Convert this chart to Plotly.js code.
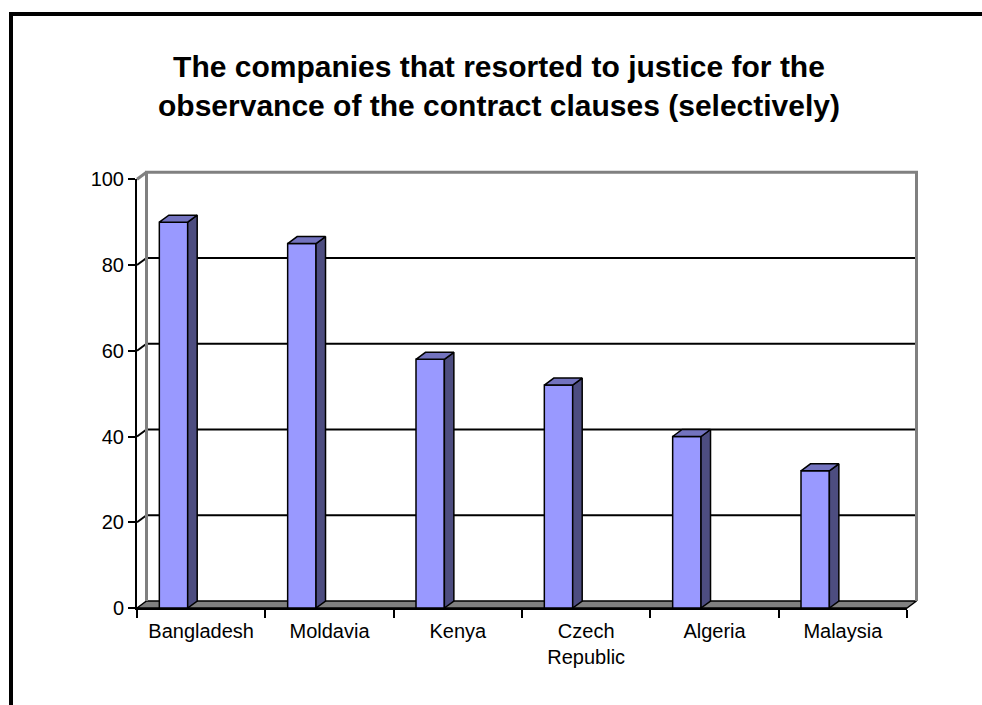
<!DOCTYPE html>
<html>
<head>
<meta charset="utf-8">
<script src="https://cdn.plot.ly/plotly-3.0.1.min.js"></script>
<style>
  html, body { margin: 0; padding: 0; background: #ffffff; }
  #chart { width: 982px; height: 705px; }
</style>
</head>
<body>
<div id="chart"></div>
<script>
// ---- data ----
const categories = ['Bangladesh', 'Moldavia', 'Kenya', 'Czech Republic', 'Algeria', 'Malaysia'];
const tickLabels = ['Bangladesh', 'Moldavia', 'Kenya', 'Czech<br>Republic', 'Algeria', 'Malaysia'];
const values = [90, 85, 58, 52, 40, 32];
const yTicks = [0, 20, 40, 60, 80, 100];

// ---- geometry (pixels) ----
const W = 982, H = 705;
const FL = 137, FR = 907, FB = 608, FT = 179.3;   // front plane
const DXP = 9.5, DYP = 7;                         // 3-D depth offset in px
const BL = 115, BR = 945, BT = 150, BB = 630;     // background subplot box
const n = categories.length;
const ux = (FR - FL) / n;          // px per category
const uy = (FB - FT) / 100;        // px per value unit
const dx = DXP / ux, dy = DYP / uy; // depth in data units
const xmin = -0.5, xmax = n - 0.5;
const barOffset = -0.326, barWidth = 0.221;

const font = 'Liberation Sans, Arial, Helvetica, sans-serif';
const xs = categories.map((c, i) => i);

// ---- background (walls, floor) on x/y ----
const floor = {
  x: [xmin, xmin + dx, xmax + dx, xmax, xmin],
  y: [0, dy, dy, 0, 0],
  xaxis: 'x', yaxis: 'y', mode: 'lines', fill: 'toself',
  fillcolor: '#808080', line: { color: '#000000', width: 1.5 },
  hoverinfo: 'skip', showlegend: false
};
const gx = [], gy = [];
yTicks.filter(t => t > 0 && t < 100).forEach(t => {
  gx.push(xmin + dx, xmax + dx, null);
  gy.push(t + dy, t + dy, null);
});
const grid = {
  x: gx, y: gy, xaxis: 'x', yaxis: 'y', mode: 'lines',
  line: { color: '#000000', width: 2 }, hoverinfo: 'skip', showlegend: false
};
const sx = [], sy = [];
yTicks.filter(t => t > 0 && t < 100).forEach(t => {
  sx.push(xmin, xmin + dx, null);
  sy.push(t, t + dy, null);
});
const sideGrid = {
  x: sx, y: sy, xaxis: 'x', yaxis: 'y', mode: 'lines',
  line: { color: '#000000', width: 2 }, hoverinfo: 'skip', showlegend: false
};
const wallEdge = {
  x: [xmin + dx, xmin + dx, xmax + dx, xmax + dx, null, xmin, xmin + dx],
  y: [dy, 100 + dy, 100 + dy, dy, null, 100, 100 + dy],
  xaxis: 'x', yaxis: 'y', mode: 'lines',
  line: { color: '#808080', width: 3 }, hoverinfo: 'skip', showlegend: false
};

// ---- bars on x2/y2 ----
const bars = {
  type: 'bar', x: xs, y: values, xaxis: 'x2', yaxis: 'y2',
  offset: barOffset, width: barWidth,
  marker: { color: '#9999FF', line: { color: '#000000', width: 1.5 } },
  showlegend: false, hoverinfo: 'x+y'
};
const sideX = [], sideY = [], topX = [], topY = [];
xs.forEach((x, i) => {
  const l = x + barOffset, r = l + barWidth, v = values[i];
  sideX.push(r, r + dx, r + dx, r, r, null);
  sideY.push(0, dy, v + dy, v, 0, null);
  topX.push(l, l + dx, r + dx, r, l, null);
  topY.push(v, v + dy, v + dy, v, v, null);
});
const sides = {
  x: sideX, y: sideY, xaxis: 'x2', yaxis: 'y2', mode: 'lines', fill: 'toself',
  fillcolor: '#4D4D80', line: { color: '#000000', width: 1.5 },
  hoverinfo: 'skip', showlegend: false
};
const tops = {
  x: topX, y: topY, xaxis: 'x2', yaxis: 'y2', mode: 'lines', fill: 'toself',
  fillcolor: '#7373BF', line: { color: '#000000', width: 1.5 },
  hoverinfo: 'skip', showlegend: false
};

const boundaries = [];
for (let i = 0; i <= n; i++) boundaries.push(i - 0.5);

const layout = {
  width: W, height: H, autosize: false,
  margin: { l: 0, r: 0, t: 0, b: 0, pad: 0 },
  paper_bgcolor: '#ffffff', plot_bgcolor: 'rgba(0,0,0,0)',
  font: { family: font, color: '#000000', size: 19 },
  showlegend: false,
  title: {
    text: 'The companies that resorted to justice for the<br>observance of the contract clauses (selectively)',
    font: { family: font, size: 30, color: '#000000', weight: 'bold' },
    x: 499 / W, xanchor: 'center', xref: 'paper',
    y: 1 - 77 / H, yanchor: 'top', yref: 'container'
  },
  xaxis: {
    domain: [BL / W, BR / W],
    range: [xmin + (BL - FL) / ux, xmin + (BR - FL) / ux],
    visible: false, fixedrange: true
  },
  yaxis: {
    domain: [1 - BB / H, 1 - BT / H],
    range: [(FB - BB) / uy, (FB - BT) / uy],
    visible: false, fixedrange: true
  },
  xaxis2: {
    domain: [FL / W, FR / W], anchor: 'y2',
    range: [xmin, xmax],
    tickmode: 'array', tickvals: xs, ticktext: tickLabels,
    ticks: '', showgrid: false, zeroline: false,
    showline: true, linecolor: '#000000', linewidth: 2,
    tickfont: { family: font, size: 20, color: '#000000' },
    ticklabelstandoff: 4,
    minor: { tickmode: 'array', tickvals: boundaries, ticks: 'outside', ticklen: 8, tickwidth: 2, tickcolor: '#000000', showgrid: false },
    fixedrange: true
  },
  yaxis2: {
    domain: [1 - FB / H, 1 - FT / H], anchor: 'x2',
    range: [0, 100],
    tickmode: 'array', tickvals: yTicks,
    ticks: 'outside', ticklen: 7, tickwidth: 2, tickcolor: '#000000',
    showgrid: false, zeroline: false,
    showline: true, linecolor: '#000000', linewidth: 2,
    tickfont: { family: font, size: 20, color: '#000000' },
    ticklabelstandoff: 0,
    fixedrange: true
  },
  shapes: [{
    type: 'rect', xref: 'paper', yref: 'paper',
    x0: 11 / W, x1: 1.1, y0: 1 - 14 / H, y1: -0.1,
    line: { color: '#000000', width: 4 }, fillcolor: 'rgba(0,0,0,0)', layer: 'above'
  }]
};

Plotly.newPlot('chart', [floor, grid, sideGrid, wallEdge, bars, sides, tops], layout, { displayModeBar: false, staticPlot: true });
</script>
</body>
</html>
